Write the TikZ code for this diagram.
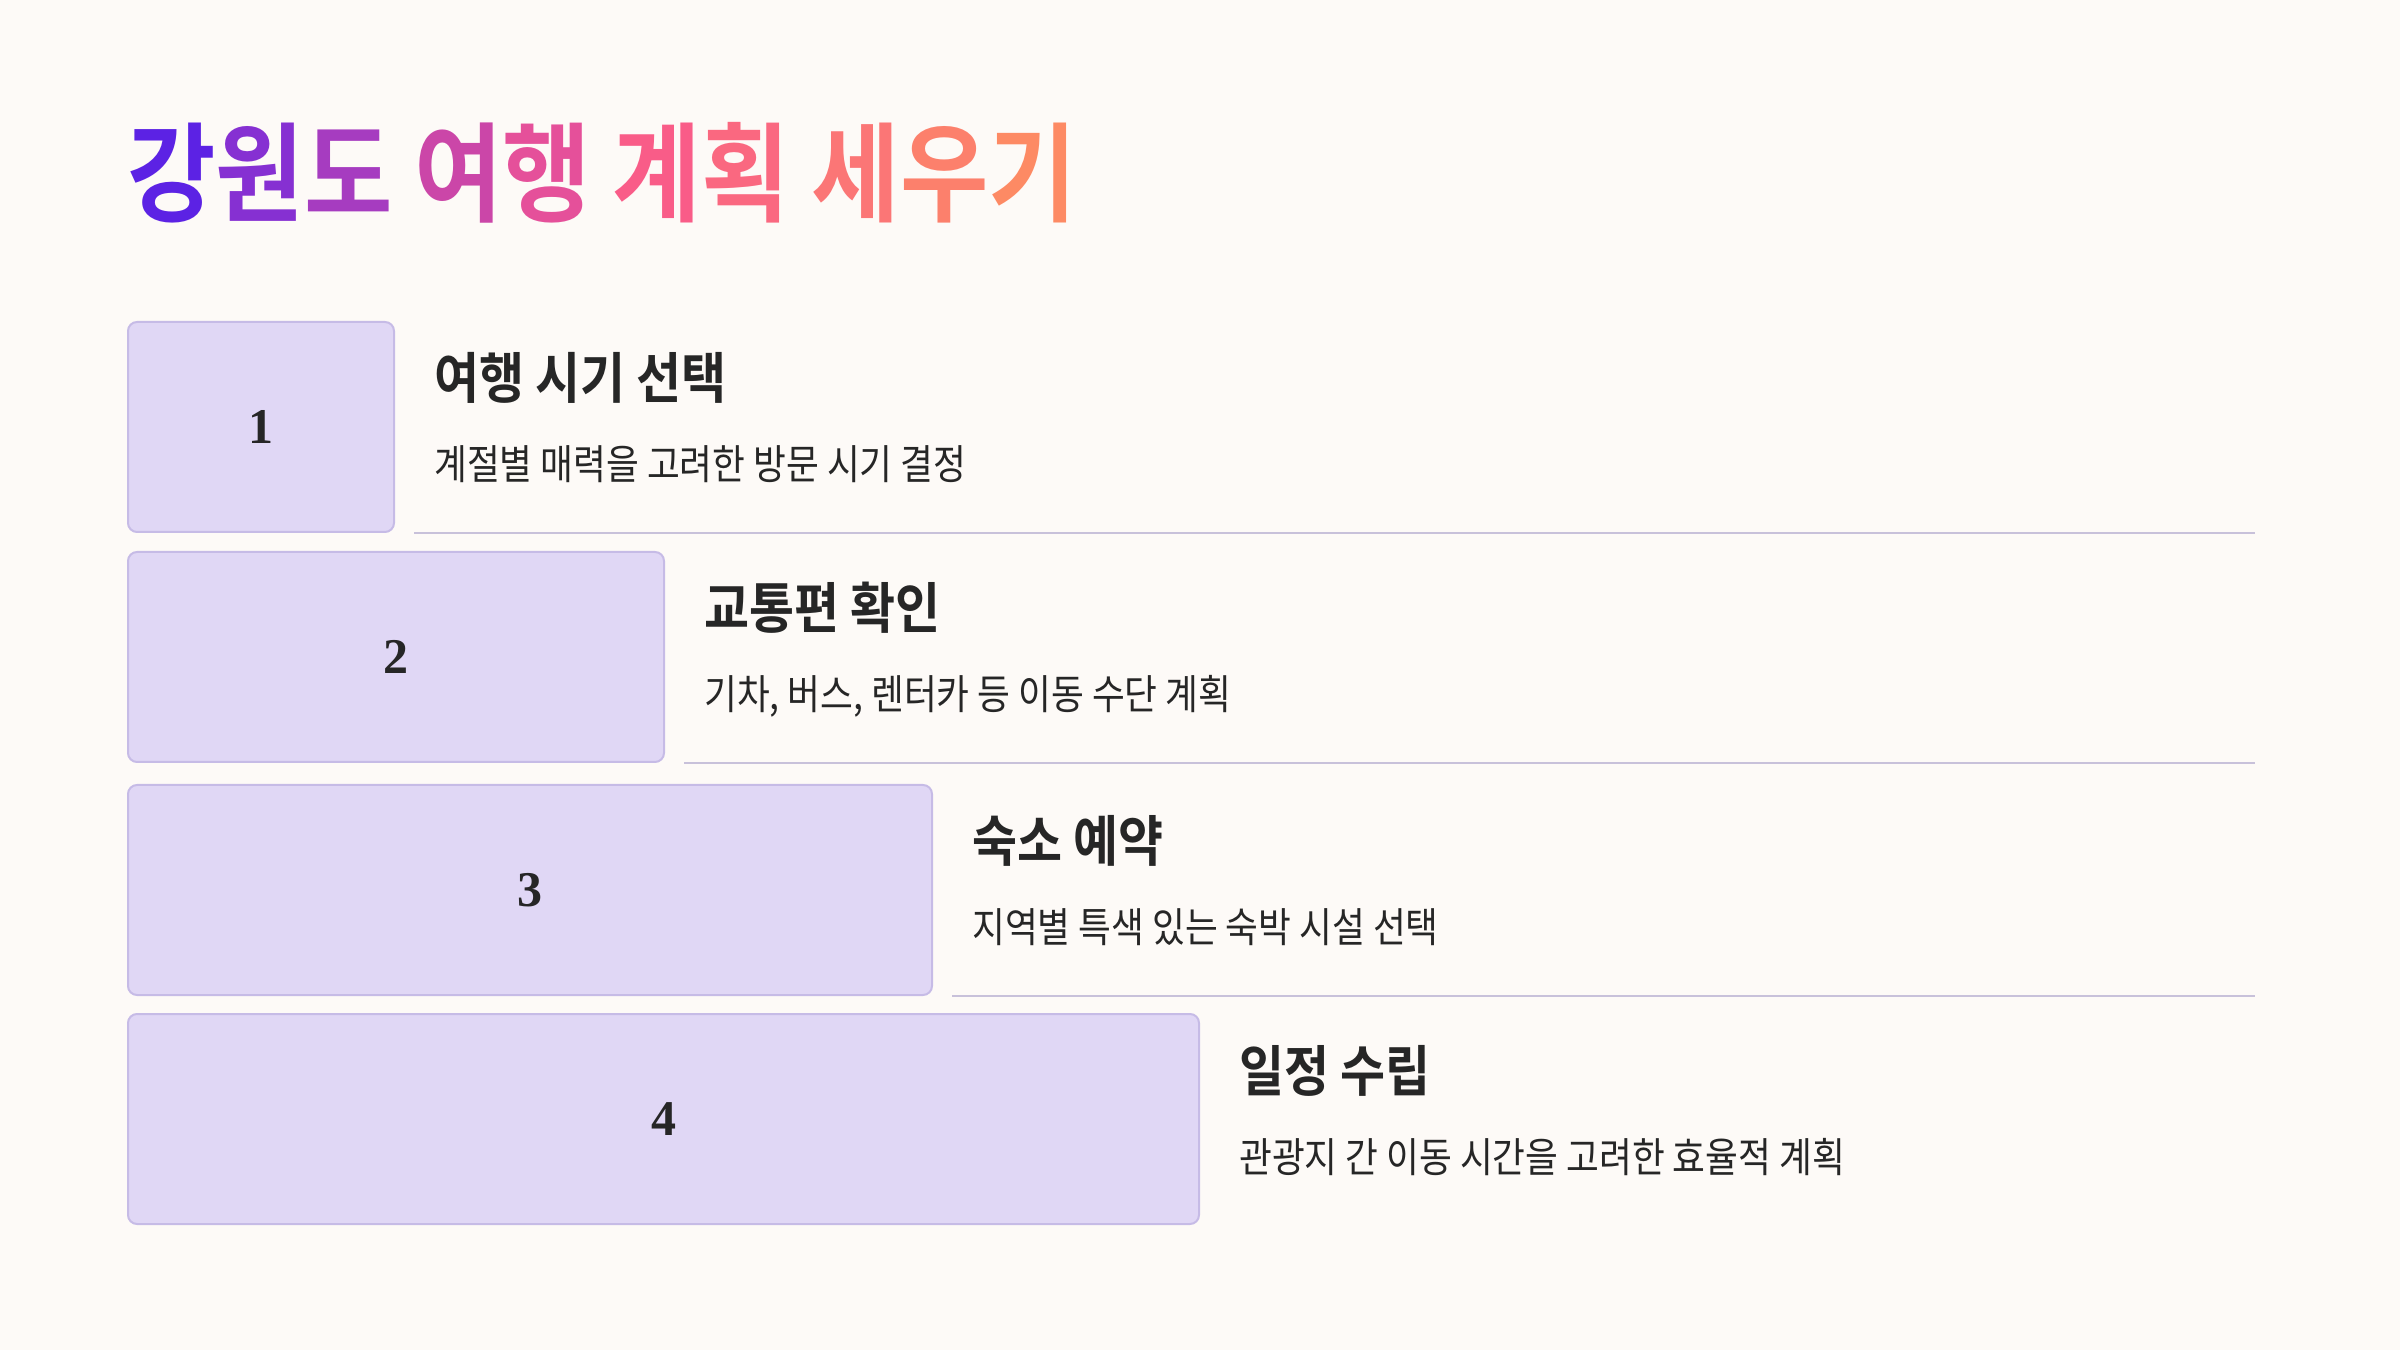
\documentclass[tikz,border=0pt]{standalone}
\usepackage{fontspec}
\usetikzlibrary{positioning,calc}

\newfontfamily\krtitle{Noto Sans CJK KR Bold}[FakeStretch=0.89]
\newfontfamily\krhead{Noto Sans CJK KR Bold}[FakeStretch=0.89]
\newfontfamily\krtext{Noto Sans CJK KR}[FakeStretch=0.87]
\newfontfamily\numfont{Liberation Serif}

\definecolor{bgcol}{HTML}{FDFAF7}
\definecolor{boxfill}{HTML}{E0D7F5}
\definecolor{boxline}{HTML}{C6BBE6}
\definecolor{rulecol}{HTML}{C8C1DA}
\definecolor{inkcol}{HTML}{262626}
% title gradient, one colour per syllable
\definecolor{tA}{HTML}{5C22E4}
\definecolor{tB}{HTML}{8630D2}
\definecolor{tC}{HTML}{A63CC0}
\definecolor{tD}{HTML}{CB46A8}
\definecolor{tE}{HTML}{E5509A}
\definecolor{tF}{HTML}{F95C88}
\definecolor{tG}{HTML}{FA6880}
\definecolor{tH}{HTML}{FB7676}
\definecolor{tI}{HTML}{FC806C}
\definecolor{tJ}{HTML}{FD8A64}

\begin{document}
\begin{tikzpicture}[x=1pt,y=1pt,
		stepbox/.style={draw=boxline, fill=boxfill, line width=2pt,
				rounded corners=9pt, anchor=north west, minimum height=210pt,
				inner sep=0pt, text=inkcol,
				font=\numfont\bfseries\fontsize{50}{60}\selectfont},
		headtxt/.style={anchor=base west, inner sep=0pt, text=inkcol,
				font=\krhead\fontsize{55}{64}\selectfont},
		desctxt/.style={anchor=base west, inner sep=0pt, text=inkcol,
				font=\krtext\fontsize{41}{50}\selectfont},
		rulerline/.style={draw=rulecol, line width=2pt},
	]
	\fill[bgcol] (0,0) rectangle (2400,1350);
	\useasboundingbox (0,0) rectangle (2400,1350);

	\node[anchor=base west, inner sep=0pt,
		font=\krtitle\fontsize{108}{126}\selectfont] (title) at (127,1136)
	{\textcolor{tA}{강}\textcolor{tB}{원}\textcolor{tC}{도} \textcolor{tD}{여}\textcolor{tE}{행} \textcolor{tF}{계}\textcolor{tG}{획} \textcolor{tH}{세}\textcolor{tI}{우}\textcolor{tJ}{기}};

	% steps
	\node[stepbox, minimum width=266pt] (box1) at (127,1029) {1};
	\node[stepbox, minimum width=536pt] (box2) at (127,799) {2};
	\node[stepbox, minimum width=804pt] (box3) at (127,566) {3};
	\node[stepbox, minimum width=1071pt] (box4) at (127,337) {4};

	\node[headtxt] (head1) at ($(box1.north east)+(39,-78)$) {여행 시기 선택};
	\node[desctxt] (desc1) at ($(box1.north east)+(39,-159)$) {계절별 매력을 고려한 방문 시기 결정};
	\node[headtxt] (head2) at ($(box2.north east)+(39,-78)$) {교통편 확인};
	\node[desctxt] (desc2) at ($(box2.north east)+(39,-159)$) {기차, 버스, 렌터카 등 이동 수단 계획};
	\node[headtxt] (head3) at ($(box3.north east)+(39,-78)$) {숙소 예약};
	\node[desctxt] (desc3) at ($(box3.north east)+(39,-159)$) {지역별 특색 있는 숙박 시설 선택};
	\node[headtxt] (head4) at ($(box4.north east)+(39,-78)$) {일정 수립};
	\node[desctxt] (desc4) at ($(box4.north east)+(39,-159)$) {관광지 간 이동 시간을 고려한 효율적 계획};

	% separators
	\coordinate (rend) at (2255,0);
	\draw[rulerline] ([xshift=19pt]box1.south east) -- (box1.south east -| rend);
	\draw[rulerline] ([xshift=19pt]box2.south east) -- (box2.south east -| rend);
	\draw[rulerline] ([xshift=19pt]box3.south east) -- (box3.south east -| rend);
\end{tikzpicture}
\end{document}
